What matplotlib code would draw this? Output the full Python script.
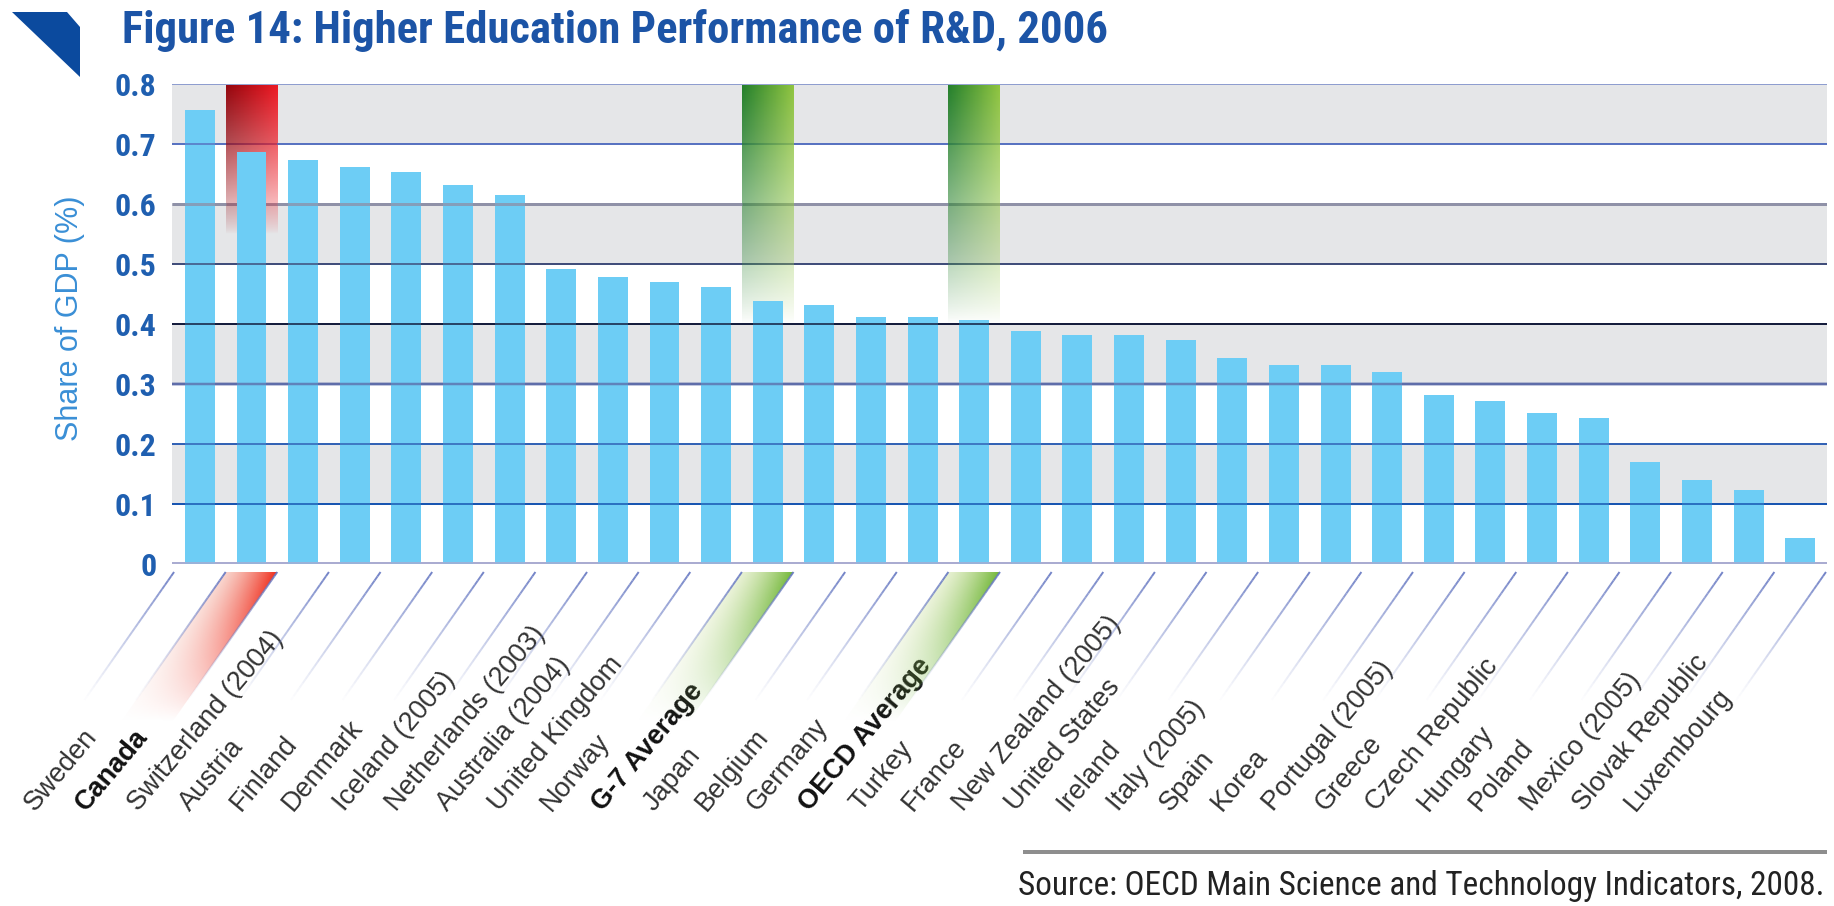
import os
import numpy as np
import matplotlib
matplotlib.use("Agg")
import matplotlib.pyplot as plt
from matplotlib import font_manager as fm
from matplotlib.patches import Polygon
from matplotlib.collections import LineCollection

# ---------------- data ----------------
categories = ["Sweden", "Canada", "Switzerland (2004)", "Austria", "Finland", "Denmark",
              "Iceland (2005)", "Netherlands (2003)", "Australia (2004)", "United Kingdom",
              "Norway", "G-7 Average", "Japan", "Belgium", "Germany", "OECD Average",
              "Turkey", "France", "New Zealand (2005)", "United States", "Ireland",
              "Italy (2005)", "Spain", "Korea", "Portugal (2005)", "Greece",
              "Czech Republic", "Hungary", "Poland", "Mexico (2005)", "Slovak Republic",
              "Luxembourg"]
values = [0.757, 0.687, 0.674, 0.662, 0.653, 0.632, 0.615, 0.491, 0.478, 0.470,
          0.461, 0.438, 0.431, 0.411, 0.411, 0.406, 0.389, 0.381, 0.382, 0.373,
          0.343, 0.332, 0.332, 0.320, 0.281, 0.271, 0.251, 0.243, 0.170, 0.140,
          0.123, 0.043]
bold_labels = ["Canada", "G-7 Average", "OECD Average"]
highlight_red = ["Canada"]
highlight_green = ["G-7 Average", "OECD Average"]
yticks = [0, 0.1, 0.2, 0.3, 0.4, 0.5, 0.6, 0.7, 0.8]
ytick_labels = ["0", "0.1", "0.2", "0.3", "0.4", "0.5", "0.6", "0.7", "0.8"]
title = "Figure 14: Higher Education Performance of R&D, 2006"
ylabel = "Share of GDP (%)"
source = "Source: OECD Main Science and Technology Indicators, 2008."


# ---------------- font helper (look for a condensed face) ----------------
def find_condensed(weight):
    cands = [("Liberation Sans Narrow", "normal"), ("Roboto Condensed", "normal"),
             ("Noto Sans Condensed", "normal"), ("Open Sans Condensed", "normal"),
             ("Noto Sans", "condensed"), ("DejaVu Sans", "condensed"),
             ("Roboto", "condensed"), ("Open Sans", "condensed")]
    for fam, st in cands:
        try:
            f = fm.findfont(fm.FontProperties(family=fam, weight=weight, stretch=st),
                            fallback_to_default=False)
        except Exception:
            continue
        name = os.path.basename(f).lower()
        if "cond" in name or "narrow" in name:
            return fam, st
    return "Liberation Sans", "normal"

COND_B_FAM, COND_B_ST = find_condensed("bold")
COND_R_FAM, COND_R_ST = find_condensed("normal")

# ---------------- layout ----------------
W, H = 1834, 906
fig = plt.figure(figsize=(W / 100, H / 100), dpi=100)
fig.patch.set_facecolor("white")

AX_L, AX_R, AX_T, AX_B = 172, 1827, 84, 564
ax = fig.add_axes([AX_L / W, (H - AX_B) / H, (AX_R - AX_L) / W, (AX_B - AX_T) / H])
n = len(categories)
xpos = np.arange(n)
XMIN, XMAX = -0.54, n - 0.48

BLUE_TXT = "#1f5fb0"
BAR = "#6dcdf5"
BAND = "#e5e6e8"
TOP = 0.797

for lo in [0.1, 0.3, 0.5, 0.7]:
    ax.axhspan(lo, lo + 0.1, color=BAND, lw=0, zorder=0)


def grad_img(c_left, c_right, power, nx=64, ny=240):
    u = np.linspace(0, 1, nx)
    v = np.linspace(1, 0, ny)
    col = (1 - u)[:, None] * np.array(c_left) + u[:, None] * np.array(c_right)
    img = np.zeros((ny, nx, 4))
    img[..., :3] = col[None, :, :]
    img[..., 3] = (v ** power)[:, None]
    return img


grad_low = {}
for lab in highlight_red:
    i = categories.index(lab)
    ylow = 0.55
    grad_low[i] = ylow
    ax.imshow(grad_img((0.58, 0.02, 0.05), (0.93, 0.10, 0.14), 0.75),
              extent=(i - 0.5, i + 0.5, ylow, TOP), aspect="auto",
              interpolation="bilinear", zorder=2.5)
for lab in highlight_green:
    i = categories.index(lab)
    ylow = 0.40
    grad_low[i] = ylow
    ax.imshow(grad_img((0.14, 0.50, 0.17), (0.56, 0.77, 0.25), 0.85),
              extent=(i - 0.5, i + 0.5, ylow, TOP), aspect="auto",
              interpolation="bilinear", zorder=2.5)

ax.bar(xpos, values, width=0.58, color=BAR, zorder=3, lw=0)

grid_specs = [(0.8, "#8c9ccf", 2.0), (0.7, "#5570c0", 2.0), (0.6, "#8d8fa6", 3.0),
              (0.5, "#3d4a78", 2.0), (0.4, "#101838", 2.0), (0.3, "#5b6aa8", 2.5),
              (0.2, "#2f5fb4", 2.0), (0.1, "#1452b0", 2.0), (0.0, "#a8aad0", 4.0)]
for y, c, lwpx in grid_specs:
    lw = lwpx * 0.72
    ax.hlines(y, XMIN, XMAX, colors=c, lw=lw, zorder=2, alpha=0.9)
    gaps = sorted([i for i, lo in grad_low.items() if y > lo])
    segs = []
    start = XMIN
    for i in gaps:
        segs.append((start, i - 0.5))
        start = i + 0.5
    segs.append((start, XMAX))
    for a, b in segs:
        ax.hlines(y, a, b, colors=c, lw=lw, zorder=4, alpha=0.75)

ax.set_xlim(XMIN, XMAX)
ax.set_ylim(0, 0.8)
for s in ax.spines.values():
    s.set_visible(False)
ax.set_xticks([])
ax.set_yticks(yticks)
ax.set_yticklabels(ytick_labels, family=COND_B_FAM, fontstretch=COND_B_ST,
                   weight="bold", fontsize=23, color=BLUE_TXT)
ax.tick_params(axis="y", length=0, pad=11)
ax.patch.set_alpha(0)

LAB_BASE = (AX_B - 812) / (AX_B - AX_T)
for i, lab in enumerate(categories):
    b = lab in bold_labels
    ax.text(i - 3.2, LAB_BASE, lab, transform=ax.get_xaxis_transform(),
            rotation=50, rotation_mode="anchor", ha="left", va="baseline",
            fontsize=19.5, family="Liberation Sans",
            weight="bold" if b else "normal",
            color="#111111" if b else "#333333", clip_on=False)

# overlay axes in pixel coordinates for decorations
ov = fig.add_axes([0, 0, 1, 1], zorder=5)
ov.set_xlim(0, W)
ov.set_ylim(0, H)
ov.axis("off")

ang = np.deg2rad(55)
L_TOP, L_BOT = 572, 700
dx_line = (L_BOT - L_TOP) / np.tan(ang)
for k in range(n + 1):
    xp = ax.transData.transform((k - 0.5, 0))[0]
    t = np.linspace(0, 1, 31)
    xs = xp - t * dx_line
    ys = (H - L_TOP) - t * (L_BOT - L_TOP)
    segs = [[(xs[j], ys[j]), (xs[j + 1], ys[j + 1])] for j in range(30)]
    alphas = 0.9 * (1 - t[:-1]) ** 1.2
    cols = [(0.40, 0.47, 0.76, a) for a in alphas]
    ov.add_collection(LineCollection(segs, colors=cols, linewidths=1.4))

W_TOP, W_BOT = 572, 722
dxw = (W_BOT - W_TOP) / np.tan(ang)


def wedge(i, c_left, c_right):
    xl = ax.transData.transform((i - 0.5, 0))[0]
    xr = ax.transData.transform((i + 0.5, 0))[0]
    yt, yb = H - W_TOP, H - W_BOT
    nx, ny = 160, 160
    X = np.linspace(xl - dxw, xr, nx)
    Y = np.linspace(yt, yb, ny)
    XX, YY = np.meshgrid(X, Y)
    depth = (yt - YY) / (yt - yb)
    u = np.clip((XX - (xl - depth * dxw)) / (xr - xl), 0, 1)
    img = np.zeros((ny, nx, 4))
    for ch in range(3):
        img[..., ch] = (1 - u) * c_left[ch] + u * c_right[ch]
    img[..., 3] = (1 - depth) ** 1.1 * (0.45 + 0.55 * u)
    im = ov.imshow(img, extent=(xl - dxw, xr, yb, yt), origin="upper",
                   aspect="auto", interpolation="bilinear", zorder=1)
    poly = Polygon([(xl, yt), (xr, yt), (xr - dxw, yb), (xl - dxw, yb)],
                   closed=True, transform=ov.transData, facecolor="none", edgecolor="none")
    ov.add_patch(poly)
    im.set_clip_path(poly)


for lab in highlight_red:
    wedge(categories.index(lab), (0.95, 0.62, 0.55), (0.94, 0.17, 0.10))
for lab in highlight_green:
    wedge(categories.index(lab), (0.80, 0.88, 0.62), (0.45, 0.72, 0.22))

tri = [(12, 12), (67, 12), (80, 27), (80, 77)]
ov.add_patch(Polygon([(x, H - y) for x, y in tri], closed=True,
                     facecolor="#0b4a9e", edgecolor="none"))

ov.plot([1023, 1827], [H - 852, H - 852], color="#8e8e8e", lw=4 * 0.72,
        solid_capstyle="butt")
ov.set_xlim(0, W)
ov.set_ylim(0, H)

t_title = fig.text(122 / W, (H - 43) / H, title, family=COND_B_FAM,
                   fontstretch=COND_B_ST, weight="bold", fontsize=31,
                   color="#1c54a6", va="baseline", ha="left")
fig.text(70 / W, (H - 318) / H, ylabel, rotation=90, ha="center", va="center",
         fontsize=22, color="#3a8fd6", family="Liberation Sans")
t_src = fig.text(1825 / W, (H - 895) / H, source, ha="right", va="baseline",
                 fontsize=22, family=COND_R_FAM, fontstretch=COND_R_ST,
                 color="#222222")

r = fig.canvas.get_renderer()
for t, target in [(t_title, 986), (t_src, 807)]:
    w = t.get_window_extent(r).width
    t.set_fontsize(t.get_fontsize() * target / w)

fig.savefig("out.png", dpi=100, facecolor="white")
